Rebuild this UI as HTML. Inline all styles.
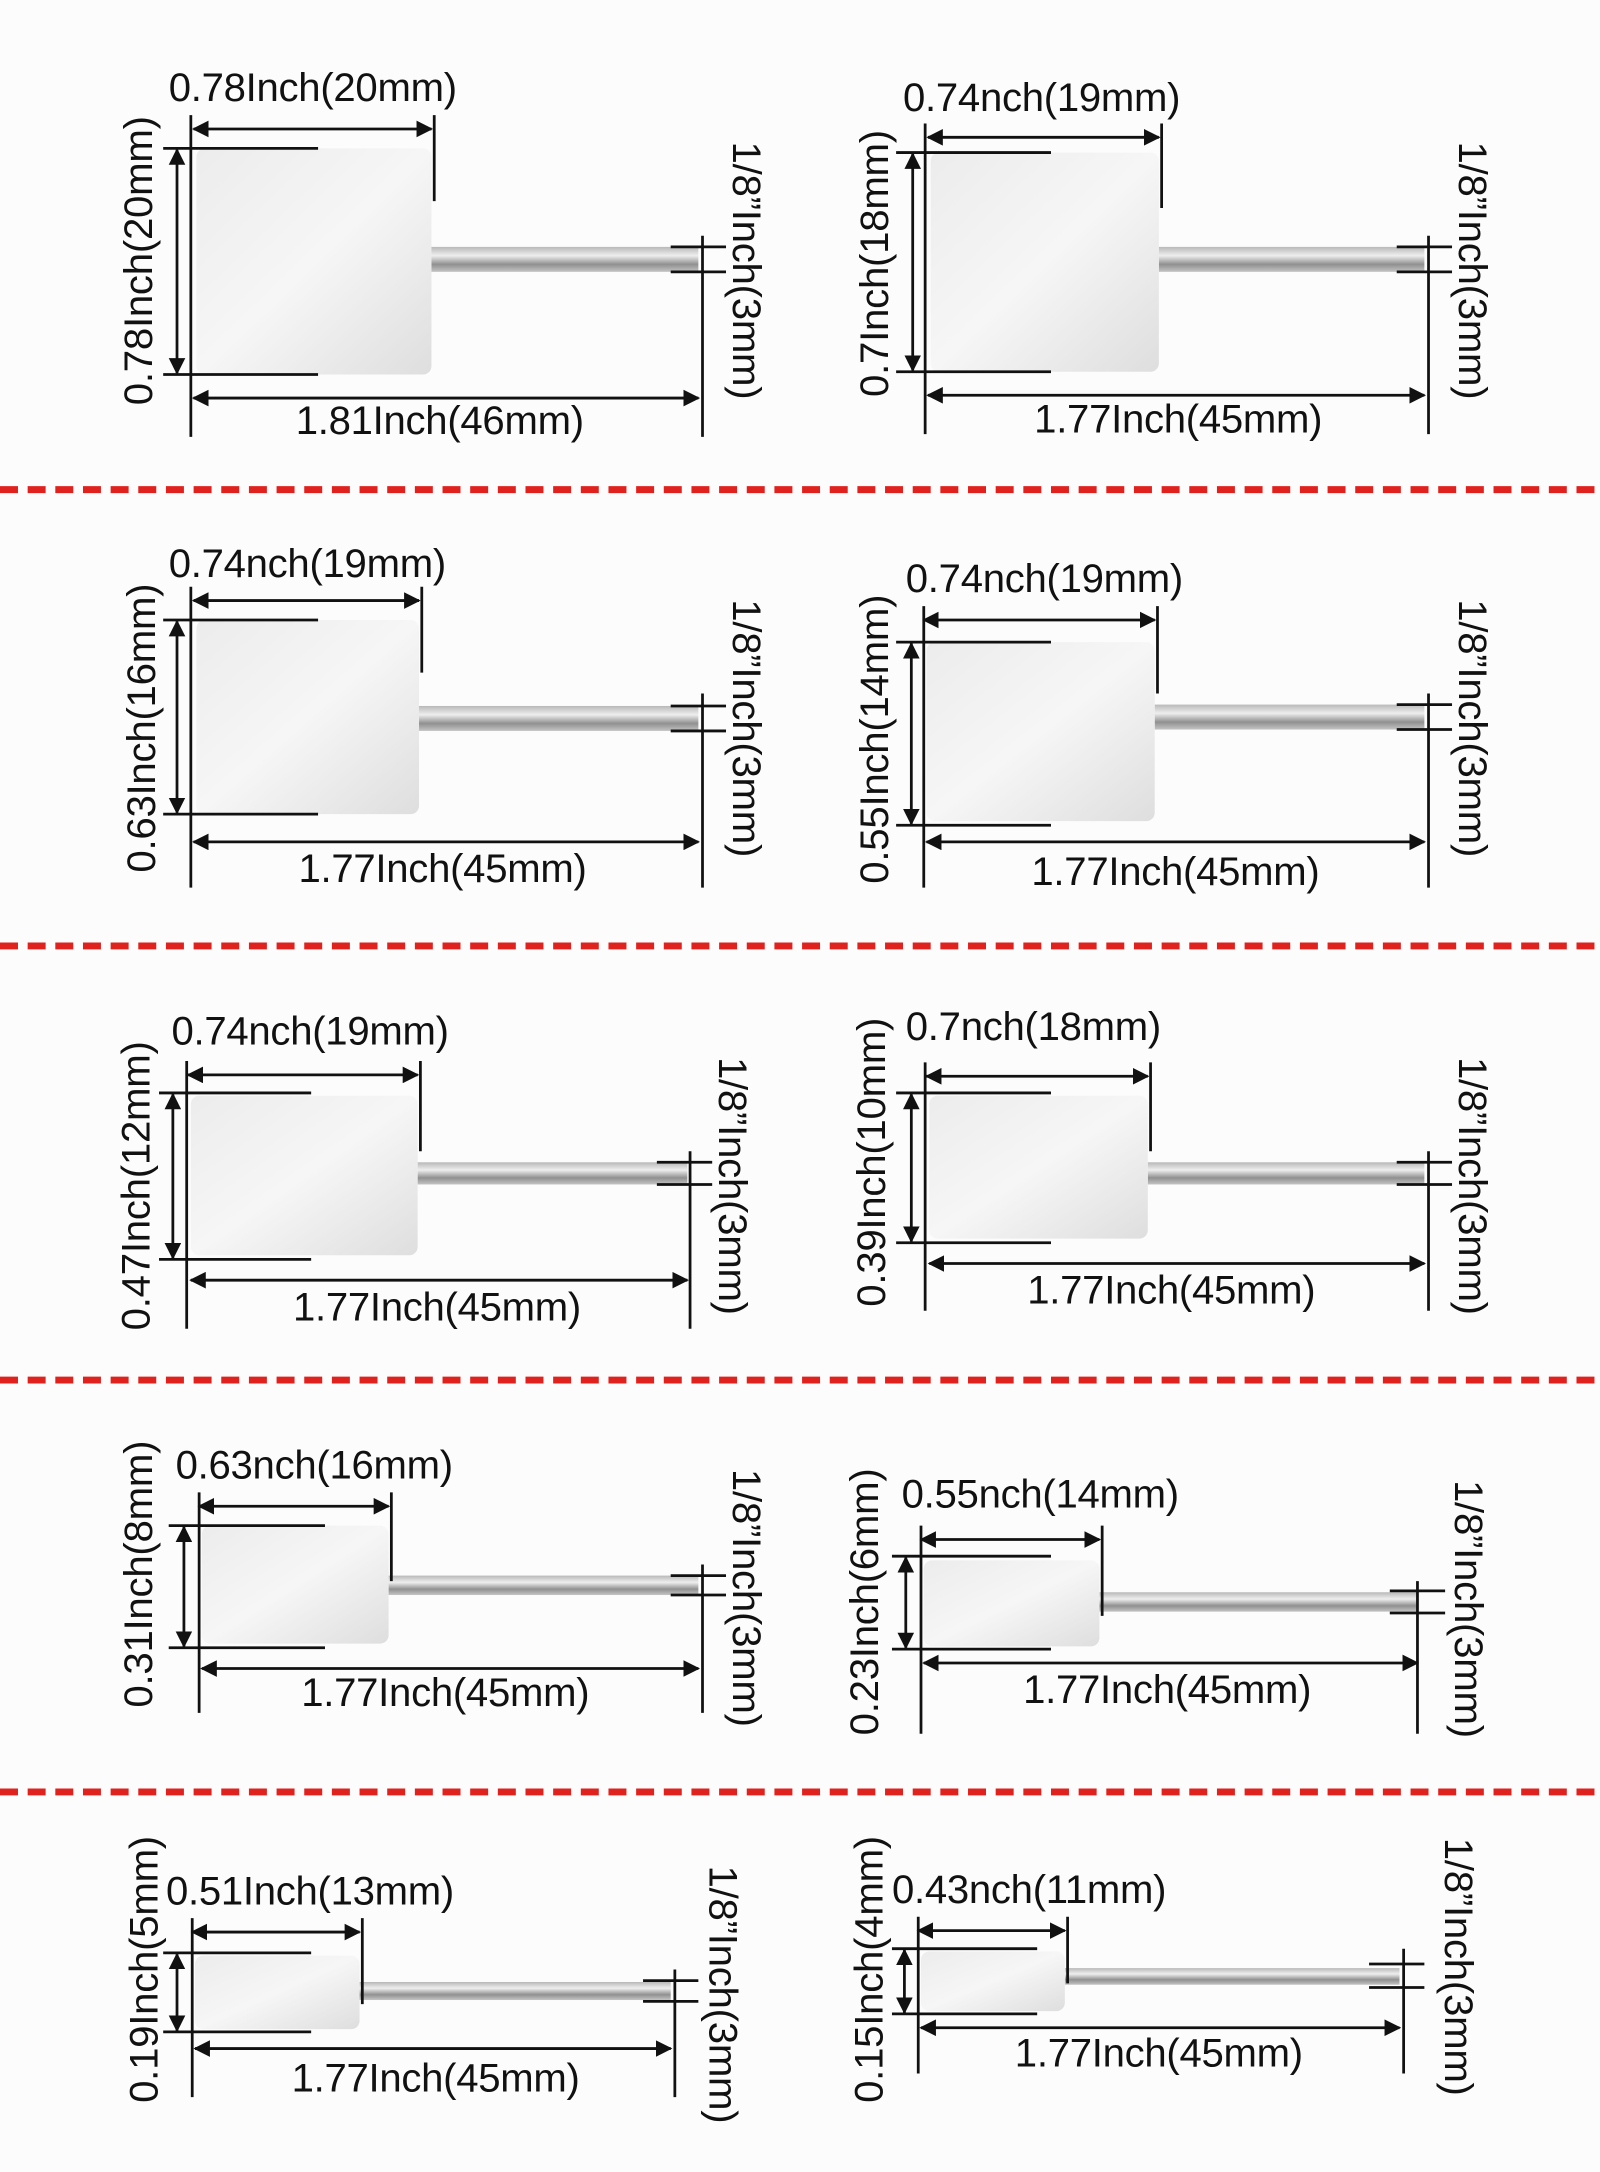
<!DOCTYPE html>
<html><head><meta charset="utf-8"><style>
html,body{margin:0;padding:0;background:#fff}
svg{display:block}
text{font-family:"Liberation Sans",sans-serif;font-size:29px;fill:#111;letter-spacing:-0.2px}
.l{stroke:#111;stroke-width:2;fill:none}
.a{stroke:#111;stroke-width:2;fill:none;marker-start:url(#ar);marker-end:url(#ar)}
.d{stroke:#e0221f;stroke-width:5;stroke-dasharray:13 7}
</style></head><body>
<svg width="1600" height="2172" viewBox="0 0 1157 1566" preserveAspectRatio="none" xmlns="http://www.w3.org/2000/svg">
<defs>
<marker id="ar" viewBox="0 0 10 10" refX="9" refY="5" markerWidth="6" markerHeight="6" orient="auto-start-reverse"><path d="M0,0 L10,5 L0,10 z" fill="#111"/></marker>
<linearGradient id="felt" x1="0" y1="0" x2="1" y2="1"><stop offset="0" stop-color="#ececec"/><stop offset="0.5" stop-color="#f6f6f6"/><stop offset="1" stop-color="#dedede"/></linearGradient>
<linearGradient id="sh" x1="0" y1="0" x2="0" y2="1"><stop offset="0" stop-color="#b8b8b8"/><stop offset="0.35" stop-color="#eeeeee"/><stop offset="0.7" stop-color="#909090"/><stop offset="1" stop-color="#c4c4c4"/></linearGradient>
</defs>
<rect width="1157" height="1566" fill="#fcfcfc"/>
<line class="d" x1="0" y1="353" x2="1157" y2="353"/>
<line class="d" x1="0" y1="682" x2="1157" y2="682"/>
<line class="d" x1="0" y1="995" x2="1157" y2="995"/>
<line class="d" x1="0" y1="1292" x2="1157" y2="1292"/>

<!-- 1 -->
<g>
<rect x="312" y="178" width="193" height="18" fill="url(#sh)"/>
<rect x="142" y="107" width="170" height="163" rx="6" fill="url(#felt)"/>
<line class="a" x1="140" y1="93" x2="312" y2="93"/>
<line class="l" x1="138" y1="83" x2="138" y2="315"/><line class="l" x1="314" y1="83" x2="314" y2="145"/>
<line class="l" x1="118" y1="107" x2="230" y2="107"/><line class="l" x1="118" y1="270" x2="230" y2="270"/>
<line class="a" x1="128" y1="108" x2="128" y2="269"/>
<line class="a" x1="140" y1="287" x2="505" y2="287"/>
<line class="l" x1="508" y1="170" x2="508" y2="315"/>
<line class="l" x1="485" y1="178" x2="525" y2="178"/><line class="l" x1="485" y1="196" x2="525" y2="196"/>
<text x="122" y="73">0.78Inch(20mm)</text>
<text x="318" y="313" text-anchor="middle">1.81Inch(46mm)</text>
<text transform="translate(110,188) rotate(-90)" text-anchor="middle">0.78Inch(20mm)</text>
<text transform="translate(530,195) rotate(90)" text-anchor="middle">1/8”Inch(3mm)</text>
</g>

<!-- 2 -->
<g>
<rect x="838" y="178" width="192" height="18" fill="url(#sh)"/>
<rect x="673" y="110" width="165" height="158" rx="6" fill="url(#felt)"/>
<line class="a" x1="671" y1="99" x2="838" y2="99"/>
<line class="l" x1="669" y1="89" x2="669" y2="313"/><line class="l" x1="840" y1="89" x2="840" y2="150"/>
<line class="l" x1="648" y1="110" x2="760" y2="110"/><line class="l" x1="648" y1="268" x2="760" y2="268"/>
<line class="a" x1="660" y1="111" x2="660" y2="267"/>
<line class="a" x1="671" y1="285" x2="1030" y2="285"/>
<line class="l" x1="1033" y1="170" x2="1033" y2="313"/>
<line class="l" x1="1010" y1="178" x2="1050" y2="178"/><line class="l" x1="1010" y1="196" x2="1050" y2="196"/>
<text x="653" y="80">0.74nch(19mm)</text>
<text x="852" y="312" text-anchor="middle">1.77Inch(45mm)</text>
<text transform="translate(642,190) rotate(-90)" text-anchor="middle">0.7Inch(18mm)</text>
<text transform="translate(1055,195) rotate(90)" text-anchor="middle">1/8”Inch(3mm)</text>
</g>

<!-- 3 -->
<g>
<rect x="303" y="509" width="202" height="18" fill="url(#sh)"/>
<rect x="142" y="447" width="161" height="140" rx="6" fill="url(#felt)"/>
<line class="a" x1="140" y1="433" x2="303" y2="433"/>
<line class="l" x1="138" y1="423" x2="138" y2="640"/><line class="l" x1="305" y1="423" x2="305" y2="485"/>
<line class="l" x1="118" y1="447" x2="230" y2="447"/><line class="l" x1="118" y1="587" x2="230" y2="587"/>
<line class="a" x1="128" y1="448" x2="128" y2="586"/>
<line class="a" x1="140" y1="607" x2="505" y2="607"/>
<line class="l" x1="508" y1="500" x2="508" y2="640"/>
<line class="l" x1="485" y1="509" x2="525" y2="509"/><line class="l" x1="485" y1="527" x2="525" y2="527"/>
<text x="122" y="416">0.74nch(19mm)</text>
<text x="320" y="636" text-anchor="middle">1.77Inch(45mm)</text>
<text transform="translate(112,525) rotate(-90)" text-anchor="middle">0.63Inch(16mm)</text>
<text transform="translate(530,525) rotate(90)" text-anchor="middle">1/8”Inch(3mm)</text>
</g>

<!-- 4 -->
<g>
<rect x="835" y="508" width="195" height="18" fill="url(#sh)"/>
<rect x="670" y="463" width="165" height="129" rx="6" fill="url(#felt)"/>
<line class="a" x1="668" y1="447" x2="835" y2="447"/>
<line class="l" x1="668" y1="437" x2="668" y2="640"/><line class="l" x1="837" y1="437" x2="837" y2="500"/>
<line class="l" x1="648" y1="463" x2="760" y2="463"/><line class="l" x1="648" y1="595" x2="760" y2="595"/>
<line class="a" x1="659" y1="464" x2="659" y2="594"/>
<line class="a" x1="670" y1="607" x2="1030" y2="607"/>
<line class="l" x1="1033" y1="500" x2="1033" y2="640"/>
<line class="l" x1="1010" y1="508" x2="1050" y2="508"/><line class="l" x1="1010" y1="526" x2="1050" y2="526"/>
<text x="655" y="427">0.74nch(19mm)</text>
<text x="850" y="638" text-anchor="middle">1.77Inch(45mm)</text>
<text transform="translate(642,533) rotate(-90)" text-anchor="middle">0.55Inch(14mm)</text>
<text transform="translate(1055,525) rotate(90)" text-anchor="middle">1/8”Inch(3mm)</text>
</g>

<!-- 5 -->
<g>
<rect x="302" y="838" width="195" height="16" fill="url(#sh)"/>
<rect x="138" y="790" width="164" height="115" rx="6" fill="url(#felt)"/>
<line class="a" x1="136" y1="775" x2="302" y2="775"/>
<line class="l" x1="135" y1="765" x2="135" y2="958"/><line class="l" x1="304" y1="765" x2="304" y2="830"/>
<line class="l" x1="115" y1="788" x2="225" y2="788"/><line class="l" x1="115" y1="908" x2="225" y2="908"/>
<line class="a" x1="125" y1="789" x2="125" y2="907"/>
<line class="a" x1="138" y1="923" x2="497" y2="923"/>
<line class="l" x1="499" y1="830" x2="499" y2="958"/>
<line class="l" x1="475" y1="838" x2="515" y2="838"/><line class="l" x1="475" y1="854" x2="515" y2="854"/>
<text x="124" y="753">0.74nch(19mm)</text>
<text x="316" y="952" text-anchor="middle">1.77Inch(45mm)</text>
<text transform="translate(108,855) rotate(-90)" text-anchor="middle">0.47Inch(12mm)</text>
<text transform="translate(520,855) rotate(90)" text-anchor="middle">1/8”Inch(3mm)</text>
</g>

<!-- 6 -->
<g>
<rect x="830" y="838" width="200" height="16" fill="url(#sh)"/>
<rect x="672" y="790" width="158" height="103" rx="6" fill="url(#felt)"/>
<line class="a" x1="670" y1="776" x2="830" y2="776"/>
<line class="l" x1="669" y1="766" x2="669" y2="945"/><line class="l" x1="832" y1="766" x2="832" y2="830"/>
<line class="l" x1="648" y1="788" x2="760" y2="788"/><line class="l" x1="648" y1="896" x2="760" y2="896"/>
<line class="a" x1="659" y1="789" x2="659" y2="895"/>
<line class="a" x1="672" y1="911" x2="1030" y2="911"/>
<line class="l" x1="1033" y1="830" x2="1033" y2="945"/>
<line class="l" x1="1010" y1="838" x2="1050" y2="838"/><line class="l" x1="1010" y1="854" x2="1050" y2="854"/>
<text x="655" y="750">0.7nch(18mm)</text>
<text x="847" y="940" text-anchor="middle">1.77Inch(45mm)</text>
<text transform="translate(640,838) rotate(-90)" text-anchor="middle">0.39Inch(10mm)</text>
<text transform="translate(1055,855) rotate(90)" text-anchor="middle">1/8”Inch(3mm)</text>
</g>

<!-- 7 -->
<g>
<rect x="281" y="1136" width="224" height="14" fill="url(#sh)"/>
<rect x="146" y="1100" width="135" height="85" rx="6" fill="url(#felt)"/>
<line class="a" x1="144" y1="1086" x2="281" y2="1086"/>
<line class="l" x1="144" y1="1076" x2="144" y2="1235"/><line class="l" x1="283" y1="1076" x2="283" y2="1140"/>
<line class="l" x1="122" y1="1100" x2="235" y2="1100"/><line class="l" x1="122" y1="1188" x2="235" y2="1188"/>
<line class="a" x1="133" y1="1101" x2="133" y2="1187"/>
<line class="a" x1="146" y1="1203" x2="505" y2="1203"/>
<line class="l" x1="508" y1="1128" x2="508" y2="1235"/>
<line class="l" x1="485" y1="1136" x2="525" y2="1136"/><line class="l" x1="485" y1="1150" x2="525" y2="1150"/>
<text x="127" y="1066">0.63nch(16mm)</text>
<text x="322" y="1230" text-anchor="middle">1.77Inch(45mm)</text>
<text transform="translate(110,1135) rotate(-90)" text-anchor="middle">0.31Inch(8mm)</text>
<text transform="translate(530,1152) rotate(90)" text-anchor="middle">1/8”Inch(3mm)</text>
</g>

<!-- 8 -->
<g>
<rect x="795" y="1148" width="230" height="14" fill="url(#sh)"/>
<rect x="668" y="1125" width="127" height="62" rx="6" fill="url(#felt)"/>
<line class="a" x1="666" y1="1110" x2="795" y2="1110"/>
<line class="l" x1="666" y1="1100" x2="666" y2="1250"/><line class="l" x1="797" y1="1100" x2="797" y2="1165"/>
<line class="l" x1="645" y1="1122" x2="760" y2="1122"/><line class="l" x1="645" y1="1189" x2="760" y2="1189"/>
<line class="a" x1="655" y1="1123" x2="655" y2="1188"/>
<line class="a" x1="668" y1="1199" x2="1025" y2="1199"/>
<line class="l" x1="1025" y1="1140" x2="1025" y2="1250"/>
<line class="l" x1="1005" y1="1147" x2="1045" y2="1147"/><line class="l" x1="1005" y1="1163" x2="1045" y2="1163"/>
<text x="652" y="1087">0.55nch(14mm)</text>
<text x="844" y="1228" text-anchor="middle">1.77Inch(45mm)</text>
<text transform="translate(635,1155) rotate(-90)" text-anchor="middle">0.23Inch(6mm)</text>
<text transform="translate(1052,1160) rotate(90)" text-anchor="middle">1/8”Inch(3mm)</text>
</g>

<!-- 9 -->
<g>
<rect x="260" y="1429" width="225" height="13" fill="url(#sh)"/>
<rect x="141" y="1410" width="119" height="53" rx="6" fill="url(#felt)"/>
<line class="a" x1="139" y1="1393" x2="260" y2="1393"/>
<line class="l" x1="139" y1="1383" x2="139" y2="1512"/><line class="l" x1="262" y1="1383" x2="262" y2="1445"/>
<line class="l" x1="118" y1="1408" x2="225" y2="1408"/><line class="l" x1="118" y1="1465" x2="225" y2="1465"/>
<line class="a" x1="128" y1="1409" x2="128" y2="1464"/>
<line class="a" x1="141" y1="1477" x2="485" y2="1477"/>
<line class="l" x1="488" y1="1420" x2="488" y2="1512"/>
<line class="l" x1="465" y1="1428" x2="505" y2="1428"/><line class="l" x1="465" y1="1443" x2="505" y2="1443"/>
<text x="120" y="1373">0.51Inch(13mm)</text>
<text x="315" y="1508" text-anchor="middle">1.77Inch(45mm)</text>
<text transform="translate(114,1420) rotate(-90)" text-anchor="middle">0.19Inch(5mm)</text>
<text transform="translate(513,1438) rotate(90)" text-anchor="middle">1/8”Inch(3mm)</text>
</g>

<!-- 10 -->
<g>
<rect x="770" y="1419" width="242" height="12" fill="url(#sh)"/>
<rect x="666" y="1407" width="104" height="43" rx="6" fill="url(#felt)"/>
<line class="a" x1="664" y1="1392" x2="770" y2="1392"/>
<line class="l" x1="664" y1="1382" x2="664" y2="1495"/><line class="l" x1="772" y1="1382" x2="772" y2="1430"/>
<line class="l" x1="645" y1="1405" x2="750" y2="1405"/><line class="l" x1="645" y1="1452" x2="750" y2="1452"/>
<line class="a" x1="654" y1="1406" x2="654" y2="1451"/>
<line class="a" x1="666" y1="1462" x2="1012" y2="1462"/>
<line class="l" x1="1015" y1="1405" x2="1015" y2="1495"/>
<line class="l" x1="990" y1="1416" x2="1030" y2="1416"/><line class="l" x1="990" y1="1433" x2="1030" y2="1433"/>
<text x="645" y="1372">0.43nch(11mm)</text>
<text x="838" y="1490" text-anchor="middle">1.77Inch(45mm)</text>
<text transform="translate(638,1420) rotate(-90)" text-anchor="middle">0.15Inch(4mm)</text>
<text transform="translate(1045,1418) rotate(90)" text-anchor="middle">1/8”Inch(3mm)</text>
</g>
</svg>
</body></html>
